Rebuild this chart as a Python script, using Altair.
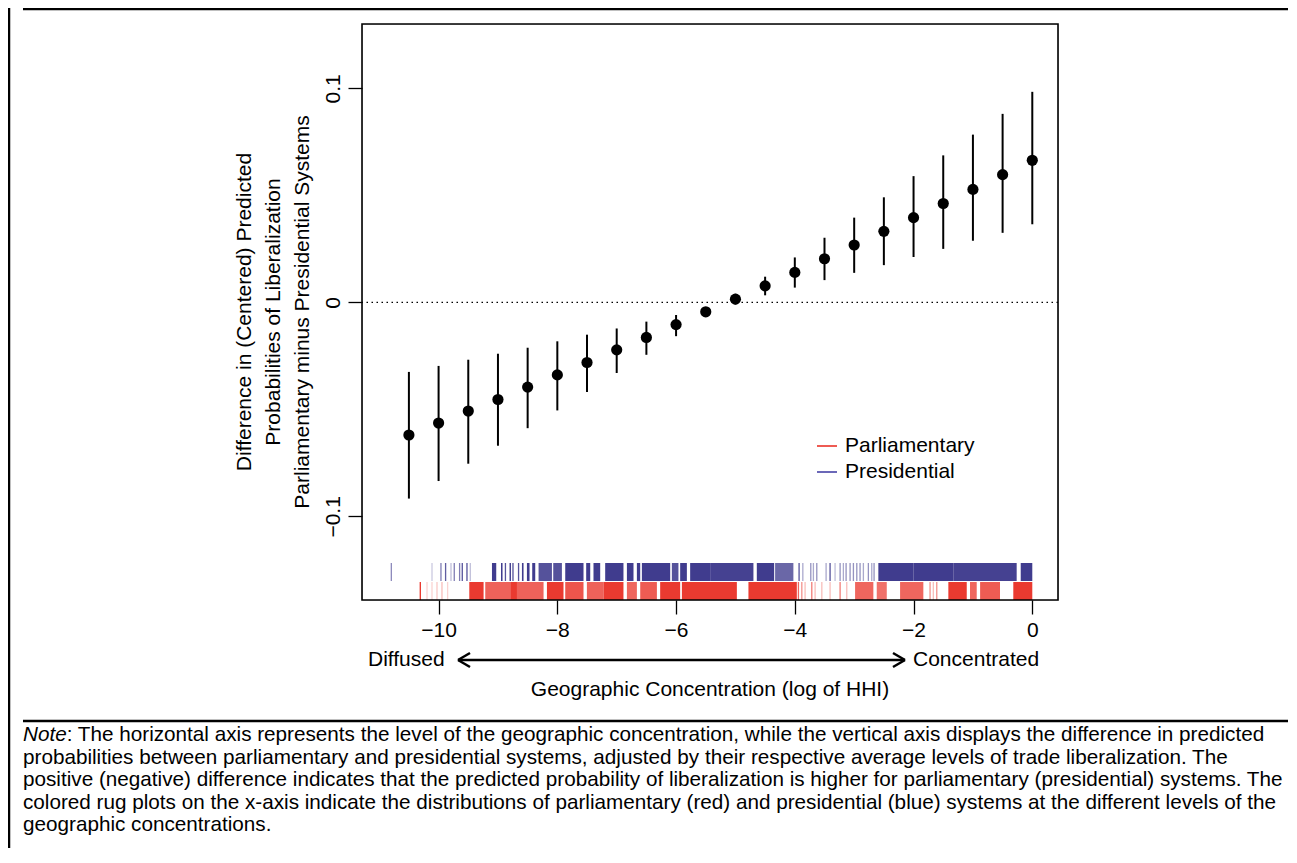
import altair as alt
import pandas as pd

# ---------------- data ----------------
x_pts = [-10.5, -10.0, -9.5, -9.0, -8.5, -8.0, -7.5, -7.0, -6.5, -6.0, -5.5,
         -5.0, -4.5, -4.0, -3.5, -3.0, -2.5, -2.0, -1.5, -1.0, -0.5, 0.0]
est = [-0.0620, -0.0564, -0.0508, -0.0454, -0.0396, -0.0339, -0.0281, -0.0222,
       -0.0164, -0.0104, -0.0044, 0.0015, 0.0077, 0.0140, 0.0204, 0.0268,
       0.0332, 0.0396, 0.0462, 0.0528, 0.0597, 0.0664]
lo = [-0.0917, -0.0835, -0.0754, -0.0670, -0.0588, -0.0505, -0.0419, -0.0330,
      -0.0245, -0.0158, -0.0065, -0.0010, 0.0033, 0.0069, 0.0104, 0.0138,
      0.0174, 0.0212, 0.0250, 0.0288, 0.0325, 0.0365]
hi = [-0.0325, -0.0297, -0.0268, -0.0240, -0.0212, -0.0182, -0.0151, -0.0122,
      -0.0090, -0.0059, -0.0023, 0.0040, 0.0120, 0.0210, 0.0302, 0.0396,
      0.0491, 0.0590, 0.0687, 0.0784, 0.0881, 0.0984]

# rug (log HHI): isolated observations with their shade, and dense stretches
pres_iso = [-10.796, -10.111, -9.960, -9.882, -9.791, -9.736, -9.646, -9.601, -9.522,
            -9.466, -8.874, -8.747, -8.653, -3.928, -3.865, -3.731, -3.687, -3.630,
            -3.473, -3.406, -3.322, -3.237, -3.182, -3.136, -3.069, -3.013, -2.956,
            -2.901, -2.845, -2.761, -2.704, -2.665]
pres_iso_a = [0.55, 0.25, 0.6, 0.75, 0.3, 0.6, 0.6, 0.8, 0.8, 0.3, 0.8, 0.8, 0.8,
              0.8, 0.4, 0.5, 0.4, 0.5, 0.4, 0.8, 0.3, 0.5, 0.4, 0.5, 0.5, 0.5,
              0.5, 0.5, 0.4, 0.5, 0.4, 0.5]
pres_from = [-9.101, -8.949, -8.805, -8.596, -8.512, -8.423, -8.316, -8.069, -7.867,
             -7.514, -7.391, -7.194, -6.828, -6.660, -6.576, -6.071, -5.931, -5.763,
             -5.426, -4.640, -4.332, -2.593, -2.003, -1.330, -0.195]
pres_to = [-9.029, -8.923, -8.781, -8.569, -8.468, -8.372, -8.091, -7.923, -7.559,
           -7.446, -7.278, -6.886, -6.717, -6.604, -6.099, -5.960, -5.818, -5.426,
           -4.697, -4.348, -4.024, -2.003, -1.330, -0.263, 0.000]
pres_a = [0.9, 0.9, 0.9, 0.9, 0.9, 0.9, 0.8, 0.8, 0.9, 0.9, 0.9, 0.9, 0.9, 0.9,
          0.9, 0.8, 0.9, 0.9, 0.88, 0.9, 0.7, 0.9, 0.9, 0.88, 0.9]

parl_iso = [-10.308, -10.195, -10.111, -10.027, -9.943, -9.848, -3.939, -3.882,
            -3.827, -3.714, -3.658, -3.545, -3.406, -3.237, -3.125, -1.722,
            -1.667, -1.609]
parl_iso_a = [0.95, 0.2, 0.2, 0.25, 0.3, 0.2, 0.7, 0.5, 0.3, 0.6, 0.3, 0.3, 0.3,
              0.6, 0.3, 0.5, 0.3, 0.5]
parl_from = [-9.483, -9.214, -8.793, -8.680, -8.175, -7.867, -7.502, -7.222, -6.828,
             -6.604, -6.268, -5.902, -4.781, -2.985, -2.620, -2.227, -1.414, -1.049,
             -0.879, -0.320]
parl_to = [-9.242, -8.793, -8.680, -8.232, -7.896, -7.559, -7.222, -6.886, -6.660,
           -6.323, -5.931, -4.976, -3.966, -2.677, -2.451, -1.835, -1.104, -0.936,
           -0.544, 0.000]
parl_a = [0.9, 0.72, 0.9, 0.72, 0.9, 0.78, 0.72, 0.9, 0.7, 0.75, 0.9, 0.9, 0.9,
          0.7, 0.65, 0.7, 0.9, 0.7, 0.75, 0.9]

x_ticks = [-10, -8, -6, -4, -2, 0]
y_ticks = [-0.1, 0, 0.1]
x_domain = [-11.29, 0.433]
y_domain = [-0.1391, 0.1301]

note_lines = [
    ": The horizontal axis represents the level of the geographic concentration, while the vertical axis displays the difference in predicted",
    "probabilities between parliamentary and presidential systems, adjusted by their respective average levels of trade liberalization. The",
    "positive (negative) difference indicates that the predicted probability of liberalization is higher for parliamentary (presidential) systems. The",
    "colored rug plots on the x-axis indicate the distributions of parliamentary (red) and presidential (blue) systems at the different levels of the",
    "geographic concentrations.",
]
y_title_lines = ["Difference in (Centered) Predicted",
                 "Probabilities of Liberalization",
                 "Parliamentary minus Presidential Systems"]

FONT = "Liberation Sans"
RED = "#e8251a"
BLUE = "#2b2782"
W, H = 696, 576
NOTE_SIZE = 20.7

df = pd.DataFrame({"x": x_pts, "est": est, "lo": lo, "hi": hi})
xs = alt.Scale(domain=x_domain, nice=False, zero=False)
ys = alt.Scale(domain=y_domain, nice=False, zero=False)
op = alt.Scale(domain=[0, 1], range=[0, 1])

xaxis = alt.Axis(values=x_ticks, format="d", title=None, grid=False, domain=False,
                 tickSize=14, tickWidth=1.3, tickColor="black", labelFont=FONT,
                 labelFontSize=21, labelColor="black", labelPadding=5)
yaxis = alt.Axis(values=y_ticks, format="~g", title=None, grid=False, domain=False,
                 tickSize=14, tickWidth=1.3, tickColor="black", labelFont=FONT,
                 labelFontSize=21, labelColor="black", labelAngle=270, labelPadding=5)

base = alt.Chart(df)
zero_line = alt.Chart(pd.DataFrame({"y": [0.0]})).mark_rule(
    color="black", strokeWidth=1.3, strokeDash=[1.5, 3.5]).encode(
    y=alt.Y("y:Q", scale=ys, axis=yaxis))
whisk = base.mark_rule(color="black", strokeWidth=2).encode(
    x=alt.X("x:Q", scale=xs, axis=xaxis), y=alt.Y("lo:Q", scale=ys), y2="hi:Q")
pts = base.mark_circle(color="black", opacity=1, size=125).encode(
    x=alt.X("x:Q", scale=xs), y=alt.Y("est:Q", scale=ys))

def rug(iso, iso_a, starts, ends, alphas, color, y0, y1):
    t = alt.Chart(pd.DataFrame({"x": iso, "a": iso_a})).mark_rule(
        color=color, strokeWidth=1.3).encode(
        x=alt.X("x:Q", scale=xs), y=alt.value(y0), y2=alt.value(y1),
        opacity=alt.Opacity("a:Q", scale=op, legend=None))
    b = alt.Chart(pd.DataFrame({"s": starts, "e": ends, "a": alphas})).mark_rect(
        color=color).encode(
        x=alt.X("s:Q", scale=xs), x2="e:Q", y=alt.value(y0), y2=alt.value(y1),
        opacity=alt.Opacity("a:Q", scale=op, legend=None))
    return [t, b]

one = pd.DataFrame({"k": [0]})

def txt(s, x, y, size=21, align="left", angle=0, style="normal", baseline="middle"):
    return alt.Chart(one).mark_text(
        text=s, font=FONT, fontSize=size, align=align, baseline=baseline,
        angle=angle, fontStyle=style, color="black").encode(
        x=alt.value(x), y=alt.value(y))

def seg(x0, y0, x1, y1, w=2, color="black"):
    return alt.Chart(one).mark_rule(color=color, strokeWidth=w).encode(
        x=alt.value(x0), y=alt.value(y0), x2=alt.value(x1), y2=alt.value(y1))

box = alt.Chart(one).mark_rect(fill=None, stroke="black", strokeWidth=1.6).encode(
    x=alt.value(0), x2=alt.value(W), y=alt.value(0), y2=alt.value(H))

layers = [zero_line, whisk, pts]
layers += rug(pres_iso, pres_iso_a, pres_from, pres_to, pres_a, BLUE, 539, 557)
layers += rug(parl_iso, parl_iso_a, parl_from, parl_to, parl_a, RED, 558, 576)
layers.append(box)

# legend
layers += [seg(455, 422, 475, 422, 1.5, RED), txt("Parliamentary", 483, 422),
           seg(455, 448, 475, 448, 1.5, "#3a36a0"), txt("Presidential", 483, 448)]

# x-axis annotation
layers += [txt("Diffused", 6, 636), txt("Concentrated", 551, 636),
           seg(96, 636, 543, 636, 2.5),
           seg(96, 636, 108, 629, 2.5), seg(96, 636, 108, 643, 2.5),
           seg(543, 636, 531, 629, 2.5), seg(543, 636, 531, 643, 2.5),
           txt("Geographic Concentration (log of HHI)", W / 2, 666, align="center")]

# y title
for s, xx in zip(y_title_lines, [-117, -88, -59]):
    layers.append(txt(s, xx, H / 2, angle=270, align="center"))

# frame and note
layers += [seg(-353, -16, -353, 830, 2.5), seg(-339, -15, 926, -15, 2.5),
           seg(-339, 697, 926, 697, 2.5)]
layers.append(txt("Note", -339, 717, size=NOTE_SIZE, style="italic", baseline="alphabetic"))
for i, s in enumerate(note_lines):
    xx = -339 + 2.112 * NOTE_SIZE if i == 0 else -339
    layers.append(txt(s, xx, 717 + i * 22.6, size=NOTE_SIZE, baseline="alphabetic"))

chart = alt.layer(*layers).properties(
    width=W, height=H,
    autosize=alt.AutoSizeParams(type="none"),
    padding={"left": 354, "top": 16, "right": 231, "bottom": 248},
).configure_view(strokeWidth=0).configure(background="white")

chart.save("out.html", embed_options={"renderer": "svg", "actions": False})
